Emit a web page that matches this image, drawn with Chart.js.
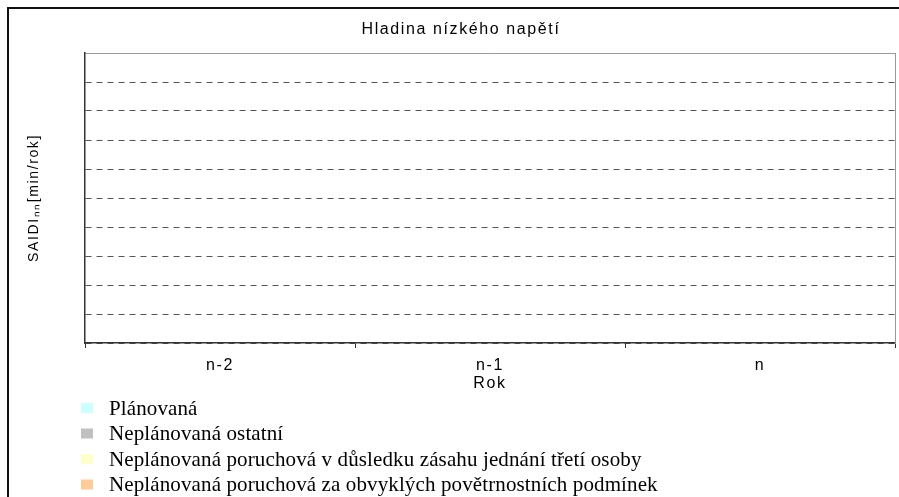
<!DOCTYPE html>
<html>
<head>
<meta charset="utf-8">
<script src="https://cdn.jsdelivr.net/npm/chart.js@4.4.1/dist/chart.umd.min.js"></script>
<style>
  html, body { margin: 0; padding: 0; background: #fff; }
  #wrap { position: relative; width: 899px; height: 497px; overflow: hidden; }
  #frame { position: absolute; left: 7px; top: 7px; width: 1000px; height: 1000px;
           border-left: 2px solid #111; border-top: 2px solid #111; pointer-events: none; }
</style>
</head>
<body>
<div id="wrap">
  <canvas id="saidiChart" width="899" height="497"></canvas>
  <div id="frame"></div>
</div>
<script>
// categories and series (the reference shows no visible bars: all zero)
const years = ["n-2", "n-1", "n"];
const planned = [0, 0, 0];
const unplannedOther = [0, 0, 0];
const unplannedThirdParty = [0, 0, 0];
const unplannedWeather = [0, 0, 0];

const seriesNames = [
    "Plánovaná",
    "Neplánovaná ostatní",
    "Neplánovaná poruchová v důsledku zásahu jednání třetí osoby",
    "Neplánovaná poruchová za obvyklých povětrnostních podmínek",
];
const seriesColors = ["#CCFFFF", "#C0C0C0", "#FFFFCC", "#FFCC99"];

const chartTitle = "Hladina nízkého napětí";
const xTitle = "Rok";
const yTitle = "SAIDIₙₙ[min/rok]";
const yMax = 10;

const sans = "'Liberation Sans', Arial, sans-serif";

// wide-spaced sans text like the original export
const spacing = {
    id: "spacing",
    beforeUpdate(chart) { chart.ctx.letterSpacing = "1.6px"; },
    beforeDraw(chart) { chart.ctx.letterSpacing = "1.6px"; },
};

// one legend entry per line, serif, under the axis
const listLegend = {
    id: "listLegend",
    afterDraw(chart) {
        const ctx = chart.ctx;
        const top = chart.chartArea.bottom + 65;
        ctx.save();
        ctx.letterSpacing = "0.12px";
        ctx.font = "21px 'Liberation Serif', 'Times New Roman', serif";
        ctx.textBaseline = "middle";
        chart.data.datasets.forEach((ds, i) => {
            const y = top + i * 25.5;
            ctx.fillStyle = ds.backgroundColor;
            ctx.fillRect(81, y - 5, 12, 10);
            ctx.fillStyle = "#000";
            ctx.fillText(ds.label, 109, y + 1);
        });
        ctx.restore();
    },
};

const seriesData = [planned, unplannedOther, unplannedThirdParty, unplannedWeather];

new Chart(document.getElementById("saidiChart"), {
    type: "bar",
    data: {
        labels: years,
        datasets: seriesNames.map((name, i) => ({
            label: name,
            data: seriesData[i],
            backgroundColor: seriesColors[i],
            borderWidth: 0,
            stack: "saidi",
        })),
    },
    options: {
        responsive: false,
        animation: false,
        layout: { padding: { left: 23, right: 0, top: 0, bottom: 94 } },
        plugins: {
            legend: { display: false },
            tooltip: { enabled: false },
            title: {
                display: true,
                text: chartTitle,
                color: "#000",
                font: { family: sans, size: 16, weight: "normal" },
                padding: { top: 20, bottom: 13.8 },
            },
        },
        scales: {
            x: {
                stacked: true,
                offset: true,
                afterFit: s => { s.height = 60; },
                grid: { drawOnChartArea: false, offset: true, color: "#333", tickLength: 5 },
                border: { color: "#333", width: 1.5 },
                ticks: { color: "#000", padding: 8, font: { family: sans, size: 16 } },
                title: {
                    display: true, text: xTitle, color: "#000",
                    font: { family: sans, size: 16 }, padding: { top: 0, bottom: 10 },
                },
            },
            y: {
                stacked: true,
                min: 0,
                max: yMax,
                afterFit: s => { s.width = 62; },
                ticks: { display: false, stepSize: 1 },
                grid: {
                    drawTicks: false,
                    lineWidth: 1,
                    color: c => (c.tick && c.tick.value === yMax ? "#999" : "#555"),
                },
                border: {
                    color: "#333",
                    width: 1.5,
                    dash: c => (c.tick && c.tick.value === yMax ? [] : [6, 5]),
                },
                title: {
                    display: true, text: yTitle, color: "#000",
                    font: { family: sans, size: 14 }, padding: { top: 3, bottom: 0 },
                },
            },
            yRight: {
                position: "right",
                min: 0,
                max: yMax,
                afterFit: s => { s.width = 4; },
                ticks: { display: false },
                grid: { drawOnChartArea: false, drawTicks: false },
                border: { color: "#999", width: 1 },
            },
        },
    },
    plugins: [spacing, listLegend],
});
</script>
</body>
</html>
